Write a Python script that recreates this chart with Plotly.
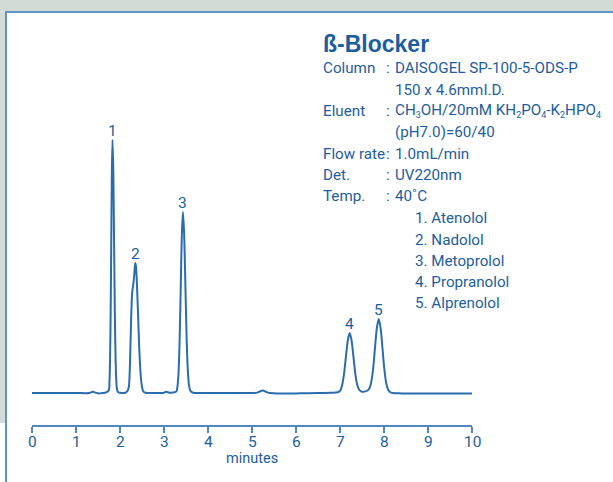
import plotly.graph_objects as go

# ---- chromatogram trace (retention time in minutes, detector response) ----
time_min = [
    0.00, 0.50, 1.00, 1.30, 1.38, 1.45, 1.52, 1.60, 1.68,
    1.746, 1.76, 1.774, 1.788, 1.802, 1.816, 1.83, 1.8475, 1.865, 1.8825, 1.90, 1.9175, 1.935, 1.96, 2.00, 2.05,
    2.12, 2.17, 2.20, 2.22, 2.24, 2.26, 2.28, 2.30, 2.32, 2.34, 2.35, 2.365, 2.38, 2.41, 2.44, 2.47, 2.50, 2.53, 2.58, 2.65,
    2.80, 2.98, 3.05, 3.12, 3.20,
    3.25, 3.286, 3.31, 3.334, 3.358, 3.382, 3.406, 3.43, 3.4575, 3.485, 3.5125, 3.54, 3.5675, 3.595, 3.64, 3.70,
    4.00, 4.50, 5.00, 5.12, 5.24, 5.36, 5.50, 5.80, 6.10, 6.50, 6.80,
    6.90, 6.965, 7.0075, 7.05, 7.0925, 7.135, 7.178, 7.22, 7.262, 7.305, 7.3475, 7.39, 7.4325, 7.48, 7.53,
    7.58, 7.625, 7.6675, 7.71, 7.7525, 7.795, 7.8375, 7.88, 7.9225, 7.965, 8.0075, 8.05, 8.0925, 8.135, 8.20,
    8.40, 9.00, 9.50, 10.00,
]
response = [
    0.0, 0.0, 0.0, 0.0, 1.2, 0.3, -0.4, 0.0, 0.5,
    2.8, 11, 34, 81, 154, 223, 253, 223, 154, 81, 34, 11, 3, 0.8, 0.2, 0.0,
    0.3, 2, 6, 20, 52, 84, 102, 108, 116, 128, 130, 126, 114, 79, 42, 18, 6, 1.5, 0.2, 0.0,
    0.0, 0.0, 1.2, 0.3, 0.5,
    0.8, 2, 8, 24, 58, 110, 159, 181, 159, 110, 58, 24, 8, 2.5, 0.6, 0.0,
    0.0, 0.0, 0.0, 0.4, 2.5, 0.4, -0.3, -0.6, -0.3, 0.0, 0.2,
    0.5, 1, 2.6, 8.1, 19.4, 36.6, 52.8, 60, 52.8, 36.6, 19.4, 8.5, 3.5, 1.6, 1.2,
    1.6, 2.5, 4.5, 11, 24, 45, 65, 74, 65, 45, 24, 10, 3.5, 1.0, 0.0,
    -0.4, -0.5, -0.5, -0.5,
]

# ---- peak table ----
peak_ids = ["1", "2", "3", "4", "5"]
peak_times = [1.83, 2.35, 3.43, 7.22, 7.88]
peak_heights = [253, 130, 181, 60, 74]
compounds = ["Atenolol", "Nadolol", "Metoprolol", "Propranolol", "Alprenolol"]

x_ticks = [0, 1, 2, 3, 4, 5, 6, 7, 8, 9, 10]
x_label = "minutes"

# ---- conditions ----
title_text = "ß-Blocker"
SUB = "<sub><span style='font-size:9px'>%s</span></sub>"
cond_labels = ["Column", "", "Eluent", "", "Flow rate", "Det.", "Temp."]
cond_colons = [":", "", ":", "", ":", ":", ":"]
cond_values = [
    "DAISOGEL SP-100-5-ODS-P",
    "150 x 4.6mmI.D.",
    "CH" + SUB % "3" + "OH/20mM KH" + SUB % "2" + "PO" + SUB % "4"
    + "-K" + SUB % "2" + "HPO" + SUB % "4",
    "(pH7.0)=60/40",
    "1.0mL/min",
    "UV220nm",
    "40˚C",
]

# ---- page geometry ----
W, H = 613, 482
L, R, T, B = 32, 141, 20, 57
PW, PH = W - L - R, H - T - B

def px(xp):
    return (xp - L) / PW

def py(yp):
    return (H - B - yp) / PH

TEXT = "#1d5d9e"
LINE = "#2b6cae"
AXIS = "#5286be"
BORDER = "#5e93c8"
STRIP = "#d3dbd5"
FONT = "Roboto, Liberation Sans, sans-serif"
FS = 15.2

fig = go.Figure()
fig.add_trace(go.Scatter(
    x=time_min, y=response, mode="lines",
    line=dict(color=LINE, width=2, shape="spline", smoothing=0.8),
    hoverinfo="skip", showlegend=False,
))

annotations = []
# peak numbers above each apex
for pid, pt, ph in zip(peak_ids, peak_times, peak_heights):
    annotations.append(dict(
        x=pt, y=ph, xref="x", yref="y", text=pid, showarrow=False,
        xanchor="center", yanchor="bottom", yshift=-2,
        font=dict(family=FONT, size=15.5, color=TEXT),
    ))

# tick labels under the time axis
for v in x_ticks:
    annotations.append(dict(
        x=v, y=py(441.5), xref="x", yref="paper", text=str(v), showarrow=False,
        xanchor="center", yanchor="middle",
        font=dict(family=FONT, size=15.5, color=TEXT),
    ))

# title
annotations.append(dict(
    x=px(321), y=py(43.5), xref="paper", yref="paper", text="<b>%s</b>" % title_text,
    showarrow=False, xanchor="left", yanchor="middle",
    font=dict(family="Liberation Sans, Arial, sans-serif", size=23, color=TEXT),
))

row_y = [68.3, 89.5, 110.7, 132.2, 153.5, 175.0, 196.2]
for lab, col, val, yy in zip(cond_labels, cond_colons, cond_values, row_y):
    if lab:
        annotations.append(dict(x=px(321), y=py(yy), xref="paper", yref="paper", text=lab,
                                showarrow=False, xanchor="left", yanchor="middle",
                                font=dict(family=FONT, size=FS, color=TEXT)))
    if col:
        annotations.append(dict(x=px(384), y=py(yy), xref="paper", yref="paper", text=col,
                                showarrow=False, xanchor="left", yanchor="middle",
                                font=dict(family=FONT, size=FS, color=TEXT)))
    annotations.append(dict(x=px(393), y=py(yy), xref="paper", yref="paper", text=val,
                            showarrow=False, xanchor="left", yanchor="middle",
                            font=dict(family=FONT, size=FS, color=TEXT)))

comp_y = [218.0, 239.5, 260.5, 281.7, 303.0]
for pid, name, yy in zip(peak_ids, compounds, comp_y):
    annotations.append(dict(x=px(413), y=py(yy), xref="paper", yref="paper",
                            text="%s. %s" % (pid, name), showarrow=False,
                            xanchor="left", yanchor="middle",
                            font=dict(family=FONT, size=FS, color=TEXT)))

# axis caption
annotations.append(dict(x=5, y=py(458), xref="x", yref="paper", text=x_label,
                        showarrow=False, xanchor="center", yanchor="middle",
                        font=dict(family=FONT, size=14.5, color=TEXT)))

shapes = [
    dict(type="rect", xref="paper", yref="paper", x0=px(0), x1=px(W), y0=py(0), y1=py(11.5),
         fillcolor=STRIP, line=dict(width=0), layer="below"),
    dict(type="rect", xref="paper", yref="paper", x0=px(0), x1=px(5), y0=py(11.5), y1=py(423),
         fillcolor=STRIP, line=dict(width=0), layer="below"),
    dict(type="rect", xref="paper", yref="paper", x0=px(5), x1=px(W), y0=py(11), y1=py(13),
         fillcolor=BORDER, line=dict(width=0)),
    dict(type="rect", xref="paper", yref="paper", x0=px(5), x1=px(7), y0=py(11), y1=py(H),
         fillcolor=BORDER, line=dict(width=0)),
]

fig.update_layout(
    width=W, height=H,
    margin=dict(l=L, r=R, t=T, b=B, pad=0),
    paper_bgcolor="white", plot_bgcolor="white",
    showlegend=False,
    annotations=annotations,
    shapes=shapes,
    xaxis=dict(
        range=[0, 10], tickvals=x_ticks, showticklabels=False,
        showline=True, linecolor=AXIS, linewidth=2, mirror=False,
        ticks="outside", ticklen=6, tickwidth=1.5, tickcolor=AXIS,
        showgrid=False, zeroline=False, fixedrange=True,
    ),
    yaxis=dict(
        range=[-32, PH - 32], visible=False, showgrid=False, zeroline=False, fixedrange=True,
    ),
)

fig.write_html("out.html")
